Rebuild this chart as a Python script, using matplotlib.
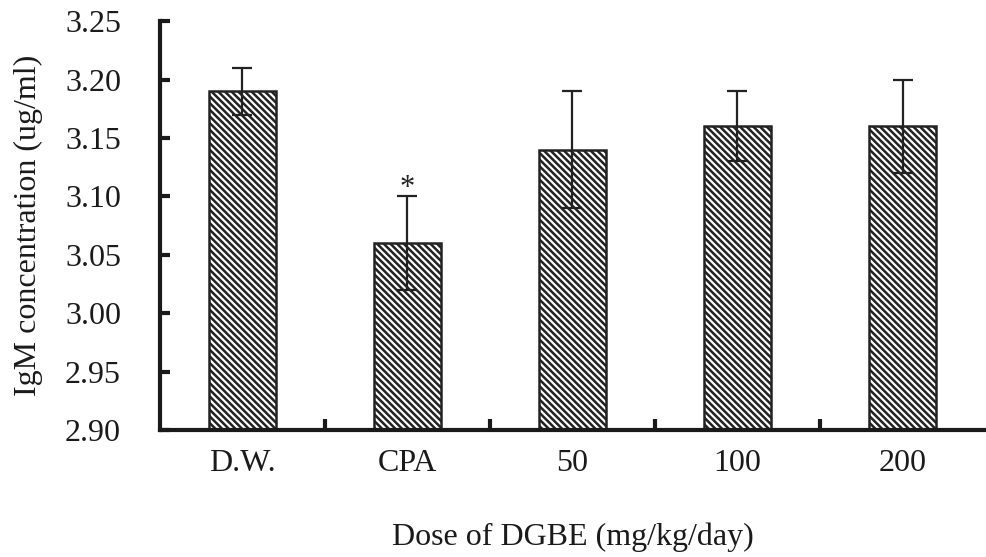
import matplotlib.pyplot as plt
import numpy as np

plt.rcParams['font.family'] = ['Liberation Serif', 'DejaVu Serif']
plt.rcParams['hatch.linewidth'] = 1.8

groups = ['D.W.', 'CPA', '50', '100', '200']
igm_mean = [3.19, 3.06, 3.14, 3.16, 3.16]
igm_err = [0.02, 0.04, 0.05, 0.03, 0.04]
yticks = [2.90, 2.95, 3.00, 3.05, 3.10, 3.15, 3.20, 3.25]

fig = plt.figure(figsize=(9.87, 5.57), dpi=100)
ax = fig.add_axes([0.162, 0.228, 0.836, 0.734])

x = np.arange(len(groups))
# bars with dense diagonal hatch
ax.bar(x, igm_mean, width=0.41, bottom=0, color='white', edgecolor='#222222',
       linewidth=1.8, hatch='\\\\\\\\\\', zorder=2)
ax.errorbar(x, igm_mean, yerr=igm_err, fmt='none', ecolor='#222222',
            elinewidth=1.6, capsize=7, capthick=1.6, zorder=3)

# significance mark on CPA
ax.text(x[1], igm_mean[1] + igm_err[1] - 0.006, '*', ha='center', va='bottom',
        fontsize=22, color='#222222')

ax.set_xlim(-0.5, 4.5)
ax.set_ylim(2.90, 3.25)
ax.set_yticks(yticks)
ax.set_yticklabels(['%.2f' % v for v in yticks])
ax.set_xticks(x)
ax.set_xticklabels(groups)
ax.set_xticks(x[:-1] + 0.5, minor=True)

ax.spines['top'].set_visible(False)
ax.spines['right'].set_visible(False)
ax.spines['left'].set_linewidth(3)
ax.spines['bottom'].set_linewidth(3)
ax.spines['left'].set_color('#1a1a1a')
ax.spines['bottom'].set_color('#1a1a1a')

ax.tick_params(axis='y', direction='in', length=7, width=3, labelsize=23,
               pad=28, colors='#1a1a1a')
ax.tick_params(axis='x', which='major', length=0, labelsize=23, pad=14,
               colors='#1a1a1a')
ax.tick_params(axis='x', which='minor', direction='in', length=8, width=3,
               color='#1a1a1a')

ax.set_ylabel('IgM concentration (ug/ml)', fontsize=23, labelpad=16,
              color='#1a1a1a')
ax.set_xlabel('Dose of DGBE (mg/kg/day)', fontsize=23, labelpad=32,
              color='#1a1a1a')

fig.savefig('out.png', dpi=100)
